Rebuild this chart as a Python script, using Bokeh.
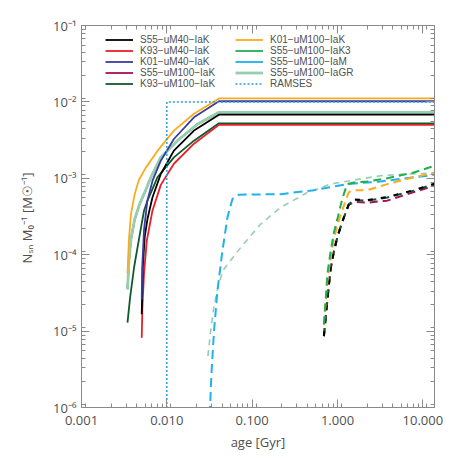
from bokeh.plotting import figure
from bokeh.models import (Legend, LegendItem, LogAxis, LogTicker,
                          CustomJSTickFormatter, Range1d)
from bokeh.embed import file_html
from bokeh.resources import INLINE

# ---------------- data ----------------
# SN II (solid) curves
age_s55_um40 = [0.00508, 0.00522, 0.00551, 0.00593, 0.00678, 0.0085, 0.0121, 0.0208, 0.0408, 13.7]
n_s55_um40 = [1.66e-5, 6.8e-5, 1.72e-4, 2.93e-4, 5.6e-4, 1.14e-3, 2.3e-3, 4.21e-3, 6.8e-3, 6.8e-3]

age_k93_um40 = [0.00508, 0.00517, 0.0054, 0.00582, 0.00678, 0.0085, 0.0121, 0.0208, 0.0408, 13.7]
n_k93_um40 = [8.2e-6, 2.03e-5, 5.6e-5, 1.52e-4, 3.76e-4, 8.2e-4, 1.55e-3, 2.84e-3, 5.0e-3, 5.0e-3]

age_k01_um40 = [0.00508, 0.00515, 0.0054, 0.0059, 0.0068, 0.0085, 0.0121, 0.0208, 0.0408, 13.7]
n_k01_um40 = [2.6e-5, 7.0e-5, 2.1e-4, 5.0e-4, 9.3e-4, 1.7e-3, 3.27e-3, 6.28e-3, 1.02e-2, 1.02e-2]

age_s55_um100 = [0.00346, 0.0036, 0.0038, 0.0042, 0.0048, 0.0058, 0.0065, 0.0085, 0.0133, 0.0228, 0.0408, 13.7]
n_s55_um100 = [3.54e-5, 8.3e-5, 1.6e-4, 2.9e-4, 4.6e-4, 7.5e-4, 1.03e-3, 1.88e-3, 3.11e-3, 5.1e-3, 7.3e-3, 7.3e-3]

age_k93_um100 = [0.00346, 0.00371, 0.00413, 0.00453, 0.0054, 0.00593, 0.00776, 0.0121, 0.0208, 0.0408, 13.7]
n_k93_um100 = [1.29e-5, 2.75e-5, 6.8e-5, 1.24e-4, 3.76e-4, 5.1e-4, 1.03e-3, 1.88e-3, 3.11e-3, 5.25e-3, 5.25e-3]

age_k01_um100 = [0.00346, 0.0036, 0.0038, 0.0042, 0.0047, 0.0057, 0.0078, 0.0121, 0.0208, 0.0408, 13.7]
n_k01_um100 = [5.7e-5, 1.6e-4, 3.4e-4, 6.2e-4, 9.5e-4, 1.39e-3, 2.3e-3, 4.2e-3, 7.0e-3, 1.11e-2, 1.11e-2]

age_ramses = [0.01, 0.01, 13.7]
n_ramses = [1e-7, 1.0e-2, 1.0e-2]

# SN Ia (dashed) curves
age_ia_m = [0.0318, 0.0333, 0.0357, 0.0392, 0.0448, 0.0513, 0.0587, 0.070, 0.216, 0.53, 1.30, 3.20, 7.85, 13.7]
n_ia_m = [8e-7, 2.72e-6, 1.0e-5, 3.4e-5, 1.12e-4, 3.07e-4, 5.36e-4, 6.1e-4, 6.2e-4, 7.0e-4, 8.4e-4, 9.1e-4, 1.03e-3, 1.11e-3]

age_ia_gr = [0.0303, 0.0326, 0.0357, 0.0408, 0.0468, 0.0733, 0.126, 0.216, 0.443, 0.83, 1.56, 3.2, 6.56, 13.7]
n_ia_gr = [4.7e-6, 1.0e-5, 2.14e-5, 4.3e-5, 6.5e-5, 1.24e-4, 2.52e-4, 4.16e-4, 6.5e-4, 8.4e-4, 9.5e-4, 1.08e-3, 1.14e-3, 1.17e-3]

age_ia_k3 = [0.693, 0.726, 0.76, 0.83, 0.908, 0.995, 1.087, 1.189, 1.30, 1.56, 2.23, 3.83, 7.85, 13.7]
n_ia_k3 = [1.23e-5, 2.5e-5, 5.5e-5, 1.1e-4, 1.95e-4, 2.9e-4, 4.4e-4, 6.3e-4, 8.4e-4, 8.8e-4, 9.1e-4, 1.0e-3, 1.19e-3, 1.46e-3]

age_ia_k01_um100 = [0.693, 0.76, 0.83, 0.908, 0.995, 1.087, 1.189, 1.30, 1.36, 1.56, 2.23, 3.83, 7.85, 13.7]
n_ia_k01_um100 = [1.2e-5, 4.5e-5, 9e-5, 1.6e-4, 2.4e-4, 3.3e-4, 4.4e-4, 5.8e-4, 6.6e-4, 7.0e-4, 7.0e-4, 8.4e-4, 1.03e-3, 1.19e-3]

age_ia_k93_um100 = [0.693, 0.76, 0.83, 0.908, 0.995, 1.087, 1.189, 1.30, 1.36, 1.56, 2.23, 3.83, 7.85, 13.7]
n_ia_k93_um100 = [8.6e-6, 2.5e-5, 6.5e-5, 1.1e-4, 1.68e-4, 2.3e-4, 3.07e-4, 4.0e-4, 4.6e-4, 5.2e-4, 5.1e-4, 5.6e-4, 6.9e-4, 8.4e-4]

age_ia_s55_um40 = [0.693, 0.76, 0.83, 0.908, 0.995, 1.087, 1.189, 1.30, 1.36, 1.56, 2.23, 3.83, 7.85, 13.7]
n_ia_s55_um40 = [8.6e-6, 2.6e-5, 6.6e-5, 1.12e-4, 1.7e-4, 2.32e-4, 3.1e-4, 4.05e-4, 4.65e-4, 5.3e-4, 5.2e-4, 5.7e-4, 7.0e-4, 8.5e-4]

age_ia_s55_um100 = [0.693, 0.76, 0.83, 0.908, 0.995, 1.087, 1.189, 1.30, 1.36, 1.56, 2.23, 3.83, 7.85, 13.7]
n_ia_s55_um100 = [8.6e-6, 2.5e-5, 6.5e-5, 1.1e-4, 1.68e-4, 2.3e-4, 3.07e-4, 4.0e-4, 4.5e-4, 4.9e-4, 4.8e-4, 5.1e-4, 6.6e-4, 8.0e-4]

labels_left = ["S55−uM40−IaK", "K93−uM40−IaK", "K01−uM40−IaK", "S55−uM100−IaK", "K93−uM100−IaK"]
labels_right = ["K01−uM100−IaK", "S55−uM100−IaK3", "S55−uM100−IaM", "S55−uM100−IaGR", "RAMSES"]

# ---------------- styling ----------------
C_BLACK = "#000000"
C_RED = "#e8202a"
C_BLUE = "#3c3ca0"
C_MAG = "#a3105c"
C_DKGRN = "#0f5a2c"
C_ORANGE = "#fbac1e"
C_GREEN = "#1fb04e"
C_CYAN = "#1eb2ee"
C_LTGRN = "#97cfae"
C_RAMSES = "#2a9fd6"

AX = "#8a8a8a"
TXT = "#505050"
FONT = "Open Sans"

p = figure(x_axis_type="log", y_axis_type="log",
           x_range=Range1d(0.001, 13.7), y_range=Range1d(1e-6, 0.1),
           frame_width=353, frame_height=382,
           min_border_left=81, min_border_right=16, min_border_top=25, min_border_bottom=43,
           output_backend="svg", toolbar_location=None)
p.grid.visible = False
p.outline_line_color = AX
p.background_fill_color = "white"
p.border_fill_color = "white"

SW = 1.8
# hidden solid curves (same SN II as S55-uM100)
r_mag = p.line(age_s55_um100, n_s55_um100, line_color=C_MAG, line_width=SW)
r_grn = p.line(age_s55_um100, n_s55_um100, line_color=C_GREEN, line_width=SW)
r_cyan = p.line(age_s55_um100, n_s55_um100, line_color=C_CYAN, line_width=SW)

# dashed Ia curves
DW = 2.0
p.line(age_ia_gr, n_ia_gr, line_color=C_LTGRN, line_width=1.6, line_dash="6 5")
p.line(age_ia_m, n_ia_m, line_color=C_CYAN, line_width=DW, line_dash="9 5")
p.line(age_ia_s55_um100, n_ia_s55_um100, line_color=C_MAG, line_width=DW, line_dash="8 5")
p.line(age_ia_k93_um100, n_ia_k93_um100, line_color=C_DKGRN, line_width=DW, line_dash="8 5")
p.line(age_ia_s55_um40, n_ia_s55_um40, line_color=C_BLACK, line_width=DW, line_dash="5 8")
p.line(age_ia_k01_um100, n_ia_k01_um100, line_color=C_ORANGE, line_width=DW, line_dash="8 5")
p.line(age_ia_k3, n_ia_k3, line_color=C_GREEN, line_width=DW, line_dash="8 5")

# solid SN II curves
r_ltg = p.line(age_s55_um100, n_s55_um100, line_color=C_LTGRN, line_width=2.8)
r_k93_100 = p.line(age_k93_um100, n_k93_um100, line_color=C_DKGRN, line_width=SW)
r_red = p.line(age_k93_um40, n_k93_um40, line_color=C_RED, line_width=SW)
r_blk = p.line(age_s55_um40, n_s55_um40, line_color=C_BLACK, line_width=SW)
r_blue = p.line(age_k01_um40, n_k01_um40, line_color=C_BLUE, line_width=SW)
r_or = p.line(age_k01_um100, n_k01_um100, line_color=C_ORANGE, line_width=SW)
r_ram = p.line(age_ramses, n_ramses, line_color=C_RAMSES, line_width=1.5, line_dash="2 2")

# ---------------- axes ----------------
sup_code = """
const e = Math.round(Math.log10(tick));
const m = {'-':'\u207b','0':'\u2070','1':'\u00b9','2':'\u00b2','3':'\u00b3','4':'\u2074','5':'\u2075','6':'\u2076','7':'\u2077','8':'\u2078','9':'\u2079'};
return '10' + String(e).split('').map(c => m[c]).join('');
"""
xfmt = CustomJSTickFormatter(code="return tick.toFixed(3);")
yfmt = CustomJSTickFormatter(code=sup_code)
blank = CustomJSTickFormatter(code="return '';")


def style_axis(ax):
    ax.axis_line_color = AX
    ax.major_tick_line_color = AX
    ax.minor_tick_line_color = AX
    ax.major_tick_in = 8
    ax.major_tick_out = 0
    ax.minor_tick_in = 4
    ax.minor_tick_out = 0
    ax.major_label_text_color = TXT
    ax.major_label_text_font = FONT
    ax.major_label_text_font_size = "13px"
    ax.axis_label_text_color = TXT
    ax.axis_label_text_font = FONT
    ax.axis_label_text_font_size = "13px"
    ax.axis_label_text_font_style = "normal"


xa = p.xaxis[0]
xa.ticker = LogTicker(num_minor_ticks=9)
xa.formatter = xfmt
xa.axis_label = "age [Gyr]"
style_axis(xa)
xa.major_label_standoff = 8
xa.axis_label_standoff = 5

ya = p.yaxis[0]
ya.ticker = LogTicker(num_minor_ticks=9)
ya.formatter = yfmt
ya.axis_label = "Nₛₙ M₀⁻¹ [M☉⁻¹]"
style_axis(ya)
ya.major_label_standoff = 5
ya.axis_label_standoff = 14

top = LogAxis(ticker=LogTicker(num_minor_ticks=9), formatter=blank)
style_axis(top)
top.major_label_standoff = 0
p.add_layout(top, "above")
right = LogAxis(ticker=LogTicker(num_minor_ticks=9), formatter=blank)
style_axis(right)
right.major_label_standoff = 0
p.add_layout(right, "right")

# ---------------- legends ----------------
def make_legend(items, loc):
    lg = Legend(items=items, location=loc, orientation="vertical")
    lg.glyph_width = 28
    lg.glyph_height = 11
    lg.label_height = 11
    lg.label_standoff = 7
    lg.spacing = 0
    lg.padding = 0
    lg.margin = 0
    lg.border_line_alpha = 0
    lg.background_fill_alpha = 0
    lg.label_text_font = "Liberation Sans"
    lg.label_text_font_size = "10px"
    lg.label_text_color = TXT
    return lg


left_items = [LegendItem(label=labels_left[i], renderers=[r])
              for i, r in enumerate([r_blk, r_red, r_blue, r_mag, r_k93_100])]
right_items = [LegendItem(label=labels_right[i], renderers=[r])
               for i, r in enumerate([r_or, r_grn, r_cyan, r_ltg, r_ram])]

p.add_layout(make_legend(left_items, (24, 318)))
p.add_layout(make_legend(right_items, (154, 318)))

open("out.html", "w").write(file_html(p, INLINE))
